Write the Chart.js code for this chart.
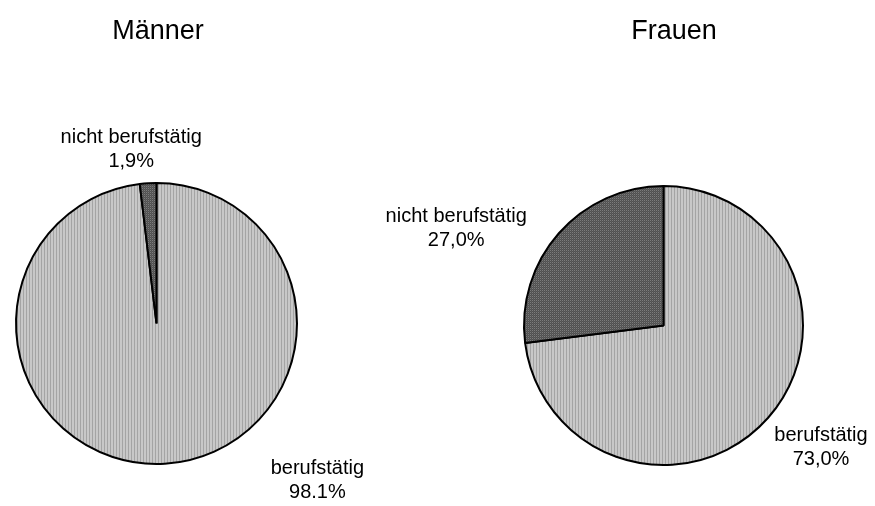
<!DOCTYPE html>
<html>
<head>
<meta charset="utf-8">
<script src="https://cdn.jsdelivr.net/npm/chart.js@4/dist/chart.umd.min.js"></script>
<style>
  body { margin: 0; background: #fff; width: 875px; height: 506px; overflow: hidden; position: relative; }
  canvas { position: absolute; top: 0; left: 0; }
</style>
</head>
<body>
<canvas id="c-men" width="875" height="506"></canvas>
<canvas id="c-women" width="875" height="506"></canvas>
<script>
const categories = ['berufstätig', 'nicht berufstätig'];
const menValues = [98.1, 1.9];
const womenValues = [73.0, 27.0];
const menPercentLabels = ['98.1%', '1,9%'];
const womenPercentLabels = ['73,0%', '27,0%'];

function makePattern(cells, w, h) {
  const c = document.createElement('canvas');
  c.width = w;
  c.height = h;
  const ctx = c.getContext('2d');
  for (let y = 0; y < h; y++) {
    for (let x = 0; x < w; x++) {
      ctx.fillStyle = cells[y][x];
      ctx.fillRect(x, y, 1, 1);
    }
  }
  return ctx.createPattern(c, 'repeat');
}

// light grey vertical stripes, dark grey mesh
const lightFill = makePattern([['#c8c8c8', '#c8c8c8', '#a4a4a4']], 3, 1);
const darkFill = makePattern([['#7c7c7c', '#505050'], ['#505050', '#5c5c5c']], 2, 2);

// label anchors, in units of the pie radius from its centre
const labelPlugin = {
  id: 'sliceLabels',
  afterDatasetsDraw(chart, args, opts) {
    const ctx = chart.ctx;
    const arcs = chart.getDatasetMeta(0).data;
    ctx.save();
    ctx.font = '20px "Liberation Sans", Arial, sans-serif';
    ctx.fillStyle = '#000';
    ctx.textAlign = 'center';
    ctx.textBaseline = 'middle';
    arcs.forEach((arc, i) => {
      const a = opts.anchors[i];
      const x = arc.x + a[0] * arc.outerRadius;
      const y = arc.y + a[1] * arc.outerRadius;
      ctx.fillText(chart.data.labels[i], x, y - 12);
      ctx.fillText(opts.texts[i], x, y + 12);
    });
    ctx.restore();
  }
};

const titlePlugin = {
  id: 'pieTitle',
  afterDraw(chart, args, opts) {
    const ctx = chart.ctx;
    ctx.save();
    ctx.font = '27px "Liberation Sans", Arial, sans-serif';
    ctx.fillStyle = '#000';
    ctx.textAlign = 'center';
    ctx.textBaseline = 'middle';
    ctx.fillText(opts.text, opts.x, opts.y);
    ctx.restore();
  }
};

function makePie(id, values, texts, padding, anchors, title) {
  new Chart(document.getElementById(id), {
    type: 'pie',
    data: {
      labels: categories,
      datasets: [{
        data: values,
        backgroundColor: [lightFill, darkFill],
        borderColor: '#000',
        borderWidth: 2,
      }],
    },
    options: {
      responsive: false,
      animation: false,
      layout: { padding: padding },
      plugins: {
        legend: { display: false },
        tooltip: { enabled: false },
        sliceLabels: { anchors: anchors, texts: texts },
        pieTitle: title,
      },
    },
    plugins: [labelPlugin, titlePlugin],
  });
}

makePie('c-men', menValues, menPercentLabels,
  { left: 15, right: 577, top: 182, bottom: 41 },
  [[1.145, 1.12], [-0.18, -1.237]],
  { text: 'Männer', x: 158, y: 32 });

makePie('c-women', womenValues, womenPercentLabels,
  { left: 523, right: 71, top: 185, bottom: 40 },
  [[1.129, 0.871], [-1.486, -0.696]],
  { text: 'Frauen', x: 674, y: 32 });
</script>
</body>
</html>
